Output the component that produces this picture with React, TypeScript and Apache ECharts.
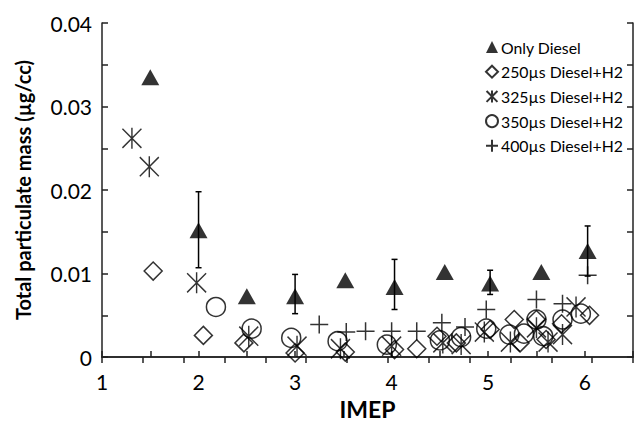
import React, { useEffect, useRef } from "react";
import * as echarts from "echarts";

// Only Diesel (filled triangles) with error bars
const dieselX = [1.5, 2.0, 2.5, 3.0, 3.52, 4.03, 4.55, 5.02, 5.55, 6.03];
const dieselY = [0.0335, 0.0152, 0.0073, 0.0073, 0.0092, 0.0084, 0.0102, 0.0088, 0.0102, 0.0127];
const errX = [2.0, 3.0, 4.03, 5.02, 6.03];
const errLow = [0.0107, 0.0052, 0.0057, 0.0075, 0.0097];
const errHigh = [0.0198, 0.0099, 0.0117, 0.0104, 0.0157];

// 250us Diesel+H2 (open diamonds)
const d250X = [1.53, 2.05, 2.47, 3.0, 3.52, 4.03, 4.26, 4.47, 4.67, 5.02, 5.27, 5.33, 5.5, 5.6, 5.76, 6.05];
const d250Y = [0.0103, 0.0026, 0.0017, 0.0005, 0.0006, 0.0009, 0.0010, 0.0025, 0.0017, 0.0033, 0.0045, 0.0017, 0.0045, 0.0021, 0.0040, 0.0050];

// 325us Diesel+H2 (asterisks)
const d325X = [1.31, 1.49, 1.98, 2.52, 3.02, 3.47, 4.0, 4.53, 4.72, 4.96, 5.23, 5.5, 5.62, 5.77, 5.91];
const d325Y = [0.0262, 0.0228, 0.0089, 0.0025, 0.0013, 0.0010, 0.0013, 0.0017, 0.0015, 0.0030, 0.0018, 0.0035, 0.0018, 0.0027, 0.0060];

// 350us Diesel+H2 (open circles)
const d350X = [2.18, 2.55, 2.96, 3.44, 3.95, 4.5, 4.72, 4.98, 5.22, 5.37, 5.5, 5.57, 5.77, 5.96];
const d350Y = [0.0060, 0.0034, 0.0023, 0.0019, 0.0015, 0.0020, 0.0024, 0.0034, 0.0027, 0.0028, 0.0045, 0.0025, 0.0045, 0.0052];

// 400us Diesel+H2 (plus signs)
const d400X = [3.25, 3.53, 3.73, 4.0, 4.26, 4.52, 4.76, 4.98, 5.5, 5.77, 6.03];
const d400Y = [0.0039, 0.0030, 0.0031, 0.0031, 0.0031, 0.0041, 0.0036, 0.0057, 0.0069, 0.0064, 0.0098];

const seriesNames = ["Only Diesel", "250\u00b5s Diesel+H2", "325\u00b5s Diesel+H2", "350\u00b5s Diesel+H2", "400\u00b5s Diesel+H2"];

const zip = (xs: number[], ys: number[]) => xs.map((x, i) => [x, ys[i]]);

const ASTERISK = "path://M-10,-10L10,10M-10,10L10,-10M0,-11L0,11";
const PLUS = "path://M0,-10L0,10M-10,0L10,0";

export default function App() {
  const ref = useRef<HTMLDivElement>(null);
  useEffect(() => {
    if (!ref.current) return;
    const chart = echarts.init(ref.current, null, { renderer: "svg" });
    const font = "Lato, 'Open Sans', sans-serif";
    const axisLine = { show: true, lineStyle: { color: "#222", width: 1.5 } };
    const openStyle = { color: "rgba(255,255,255,0)", borderColor: "#000", borderWidth: 1.5 };
    chart.setOption({
      animation: false,
      backgroundColor: "#fff",
      grid: { left: 102, right: 2, top: 23, bottom: 64, containLabel: false },
      legend: {
        orient: "vertical",
        left: 480,
        top: 34,
        itemWidth: 12,
        itemHeight: 12,
        itemGap: 8.7,
        textStyle: { fontFamily: font, fontSize: 15.8, color: "#000", padding: [0, 0, 0, -2] },
        data: seriesNames,
      },
      xAxis: [
        {
          type: "value",
          min: 1,
          max: 6.5,
          interval: 0.5,
          axisLine,
          axisTick: { show: true, inside: true, length: 6, lineStyle: { color: "#222", width: 1.5 } },
          splitLine: { show: false },
          axisLabel: {
            fontFamily: font,
            fontSize: 21,
            color: "#000",
            margin: 14,
            formatter: (v: number) => (Number.isInteger(v) && v <= 6 ? String(v) : ""),
          },
          name: "IMEP",
          nameLocation: "middle",
          nameGap: 38,
          nameTextStyle: { fontFamily: font, fontSize: 23, fontWeight: "bold", color: "#000" },
        },
        {
          type: "value",
          position: "top",
          min: 0,
          max: 13,
          interval: 1,
          axisLine,
          axisTick: { show: true, inside: true, length: 6, lineStyle: { color: "#222", width: 1.5 } },
          axisLabel: { show: false },
          splitLine: { show: false },
        },
      ],
      yAxis: [
        {
          type: "value",
          min: 0,
          max: 0.04,
          interval: 0.005,
          axisLine,
          axisTick: { show: true, inside: true, length: 6, lineStyle: { color: "#222", width: 1.5 } },
          splitLine: { show: false },
          axisLabel: {
            fontFamily: font,
            fontSize: 21,
            color: "#000",
            margin: 10,
            formatter: (v: number) => {
              const k = Math.round(v * 1000);
              if (k % 10 !== 0) return "";
              return k === 0 ? "0" : v.toFixed(2);
            },
          },
          name: "Total particulate mass (\u00b5g/cc)",
          nameLocation: "middle",
          nameGap: 69,
          nameTextStyle: { fontFamily: font, fontSize: 20, fontWeight: "bold", color: "#000" },
        },
        {
          type: "value",
          position: "right",
          min: 0,
          max: 0.04,
          interval: 0.005,
          axisLine,
          axisTick: { show: true, inside: true, length: 6, lineStyle: { color: "#222", width: 1.5 } },
          axisLabel: { show: false },
          splitLine: { show: false },
        },
      ],
      series: [
        {
          type: "custom",
          name: "err",
          xAxisIndex: 0,
          yAxisIndex: 0,
          data: errX.map((x, i) => [x, errLow[i], errHigh[i]]),
          renderItem: (_p: any, api: any) => {
            const lo = api.coord([api.value(0), api.value(1)]);
            const hi = api.coord([api.value(0), api.value(2)]);
            const st = { stroke: "#000", lineWidth: 1.5 };
            return {
              type: "group",
              children: [
                { type: "line", shape: { x1: lo[0], y1: lo[1], x2: hi[0], y2: hi[1] }, style: st },
                { type: "line", shape: { x1: hi[0] - 3, y1: hi[1], x2: hi[0] + 3, y2: hi[1] }, style: st },
                { type: "line", shape: { x1: lo[0] - 3, y1: lo[1], x2: lo[0] + 3, y2: lo[1] }, style: st },
              ],
            };
          },
          silent: true,
          z: 1,
        },
        {
          type: "scatter",
          name: seriesNames[0],
          data: zip(dieselX, dieselY),
          symbol: "triangle",
          symbolSize: [18, 16],
          itemStyle: { color: "#000" },
          z: 3,
        },
        {
          type: "scatter",
          name: seriesNames[1],
          data: zip(d250X, d250Y),
          symbol: "diamond",
          symbolSize: [18, 18],
          itemStyle: openStyle,
          z: 2,
        },
        {
          type: "scatter",
          name: seriesNames[2],
          data: zip(d325X, d325Y),
          symbol: ASTERISK,
          symbolSize: [19, 21],
          itemStyle: openStyle,
          z: 2,
        },
        {
          type: "scatter",
          name: seriesNames[3],
          data: zip(d350X, d350Y),
          symbol: "circle",
          symbolSize: 19,
          itemStyle: openStyle,
          z: 2,
        },
        {
          type: "scatter",
          name: seriesNames[4],
          data: zip(d400X, d400Y),
          symbol: PLUS,
          symbolSize: 18,
          itemStyle: openStyle,
          z: 2,
        },
      ],
    });
    return () => chart.dispose();
  }, []);
  return <div ref={ref} style={{ width: 636, height: 425, position: "absolute", left: 0, top: 0 }} />;
}
